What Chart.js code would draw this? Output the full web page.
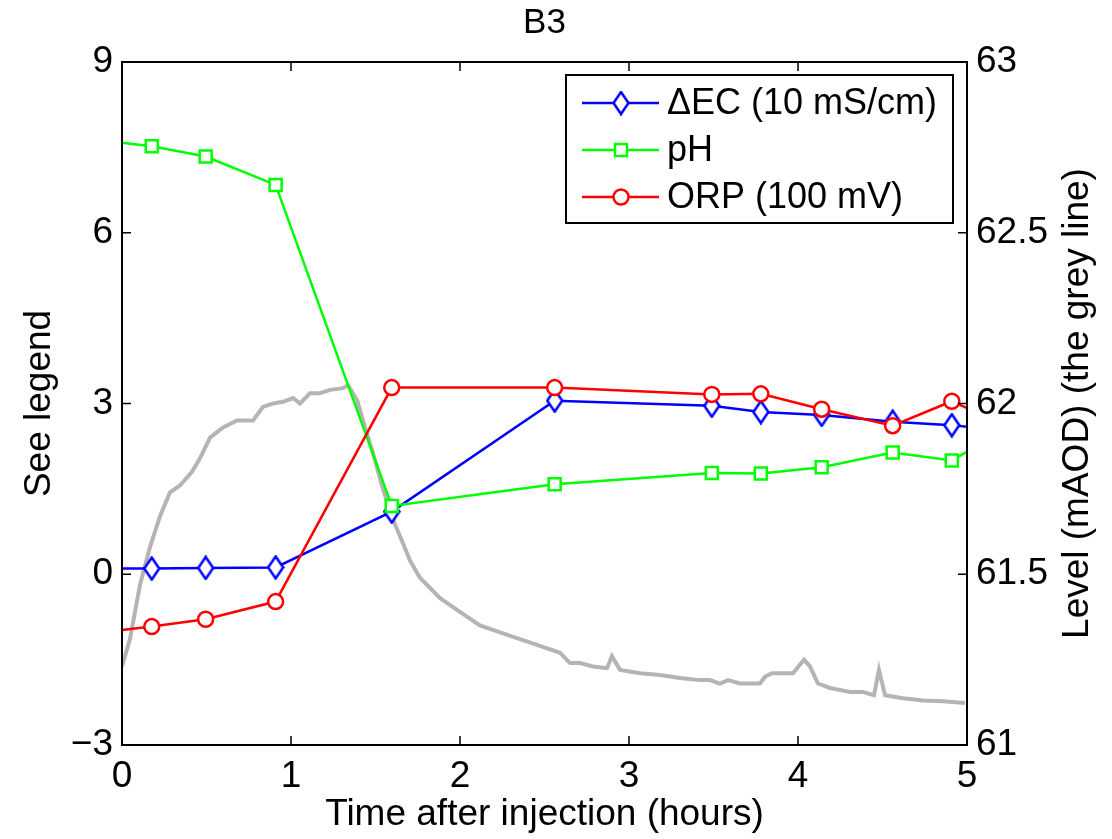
<!DOCTYPE html>
<html>
<head>
<meta charset="utf-8">
<script src="https://cdn.jsdelivr.net/npm/chart.js@4/dist/chart.umd.min.js"></script>
<style>
  html, body { margin: 0; padding: 0; background: #fff; }
  #wrap { width: 1112px; height: 839px; }
</style>
</head>
<body>
<div id="wrap"><canvas id="plot" width="1112" height="839"></canvas></div>
<script>
// sample times (hours) and the three probe series
var sampleHours = [0.176, 0.495, 0.909, 1.596, 2.56, 3.49, 3.78, 4.14, 4.56, 4.91];
var deltaEC = [0.10, 0.11, 0.12, 1.10, 3.05, 2.96, 2.85, 2.80, 2.68, 2.62];
var phVals = [7.52, 7.34, 6.84, 1.20, 1.58, 1.78, 1.77, 1.88, 2.14, 2.00];
var orpVals = [-0.92, -0.79, -0.48, 3.28, 3.28, 3.16, 3.17, 2.90, 2.61, 3.04];

// where the lines meet the left (t=0) and right (t=5) edges of the axes
var edgeHours = [0, 5];
var ecEdge = [0.10, 2.59];
var phEdge = [7.58, 2.15];
var orpEdge = [-0.98, 2.92];

// water level logger (right axis)
var levelHours = [0, 0.047, 0.107, 0.166, 0.225, 0.284, 0.343, 0.414, 0.462, 0.521,
    0.598, 0.680, 0.775, 0.834, 0.893, 0.953, 1.012, 1.053, 1.112, 1.172,
    1.231, 1.308, 1.337, 1.391, 1.438, 1.485, 1.544, 1.604, 1.663, 1.704,
    1.763, 1.882, 2.0, 2.118, 2.237, 2.355, 2.473, 2.592, 2.651, 2.710,
    2.787, 2.870, 2.899, 2.947, 3.065, 3.183, 3.302, 3.420, 3.479, 3.538,
    3.586, 3.657, 3.775, 3.805, 3.846, 3.970, 4.036, 4.071, 4.118, 4.189,
    4.308, 4.385, 4.450, 4.479, 4.515, 4.621, 4.740, 4.858, 4.988];
var levelVals = [61.23, 61.31, 61.47, 61.58, 61.67, 61.74, 61.76, 61.80, 61.84, 61.90,
    61.93, 61.95, 61.95, 61.99, 62.00, 62.005, 62.016, 62.00, 62.03, 62.03,
    62.04, 62.045, 62.054, 62.01, 61.93, 61.855, 61.75, 61.66, 61.59, 61.54,
    61.49, 61.43, 61.39, 61.35, 61.33, 61.31, 61.29, 61.27, 61.24, 61.24,
    61.23, 61.225, 61.26, 61.22, 61.21, 61.205, 61.196, 61.19, 61.19, 61.18,
    61.19, 61.18, 61.18, 61.2, 61.21, 61.21, 61.25, 61.23, 61.18, 61.167,
    61.155, 61.155, 61.146, 61.22, 61.146, 61.137, 61.13, 61.128, 61.123];

var seriesNames = ["\u0394EC (10 mS/cm)", "pH", "ORP (100 mV)"];
var xTicks = [0, 1, 2, 3, 4, 5];
var yTicks = [-3, 0, 3, 6, 9];
var y2Ticks = [61, 61.5, 62, 62.5, 63];

var FONT = "'Liberation Sans', Arial, Helvetica, sans-serif";

function withEdges(vals, edge) {
    var pts = [{ x: edgeHours[0], y: edge[0] }];
    for (var i = 0; i < sampleHours.length; i++) pts.push({ x: sampleHours[i], y: vals[i] });
    pts.push({ x: edgeHours[1], y: edge[1] });
    return pts;
}

function markerRadius(r) {
    return function (ctx) {
        var n = sampleHours.length;
        return (ctx.dataIndex === 0 || ctx.dataIndex === n + 1) ? 0 : r;
    };
}

// matlab-ish tall diamond
function makeDiamond() {
    var c = document.createElement("canvas");
    c.width = 18; c.height = 25;
    var g = c.getContext("2d");
    g.beginPath();
    g.moveTo(9, 1.5); g.lineTo(16.5, 12.5); g.lineTo(9, 23.5); g.lineTo(1.5, 12.5);
    g.closePath();
    g.fillStyle = "#fff"; g.fill();
    g.lineWidth = 2.5; g.strokeStyle = "#0000ff"; g.stroke();
    return c;
}
var diamondImg = makeDiamond();

var levelPts = levelHours.map(function (t, i) { return { x: t, y: levelVals[i] }; });

var frame = {
    id: "frame",
    afterDatasetsDraw: function (chart) {
        var ctx = chart.ctx, a = chart.chartArea;
        var sx = chart.scales.x, sy = chart.scales.y, sy2 = chart.scales.y2;
        ctx.save();
        ctx.strokeStyle = "#000";
        ctx.lineWidth = 2;
        ctx.strokeRect(a.left, a.top, a.right - a.left, a.bottom - a.top);
        ctx.lineWidth = 1.5;
        ctx.beginPath();
        xTicks.forEach(function (t) {
            var px = sx.getPixelForValue(t);
            ctx.moveTo(px, a.bottom); ctx.lineTo(px, a.bottom - 9);
            ctx.moveTo(px, a.top); ctx.lineTo(px, a.top + 9);
        });
        yTicks.forEach(function (t) {
            var py = sy.getPixelForValue(t);
            ctx.moveTo(a.left, py); ctx.lineTo(a.left + 9, py);
        });
        y2Ticks.forEach(function (t) {
            var py = sy2.getPixelForValue(t);
            ctx.moveTo(a.right, py); ctx.lineTo(a.right - 9, py);
        });
        ctx.stroke();

        // legend box
        var lx = 566, ly = 75, lw = 387, lh = 148;
        ctx.fillStyle = "#fff";
        ctx.fillRect(lx, ly, lw, lh);
        ctx.lineWidth = 2;
        ctx.strokeRect(lx, ly, lw, lh);
        var rows = [103, 150, 197];
        var ds = chart.data.datasets;
        for (var i = 0; i < 3; i++) {
            var d = ds[i];
            ctx.strokeStyle = d.borderColor;
            ctx.lineWidth = 2.5;
            ctx.beginPath();
            ctx.moveTo(582, rows[i]); ctx.lineTo(659, rows[i]);
            ctx.stroke();
            ctx.fillStyle = "#fff";
            if (i === 0) {
                ctx.drawImage(diamondImg, 621 - 9, rows[i] - 12.5);
            } else if (i === 1) {
                ctx.fillRect(615, rows[i] - 6, 12, 12);
                ctx.strokeRect(615, rows[i] - 6, 12, 12);
            } else {
                ctx.beginPath();
                ctx.arc(621, rows[i], 7.5, 0, Math.PI * 2);
                ctx.fill(); ctx.stroke();
            }
            ctx.fillStyle = "#000";
            ctx.font = "36px " + FONT;
            ctx.textAlign = "left";
            ctx.textBaseline = "middle";
            ctx.fillText(seriesNames[i], 667, rows[i] + 1);
        }

        // titles
        ctx.fillStyle = "#000";
        ctx.textAlign = "center";
        ctx.textBaseline = "middle";
        ctx.font = "35px " + FONT;
        ctx.fillText("B3", (a.left + a.right) / 2, 23);
        ctx.font = "37px " + FONT;
        ctx.fillText("Time after injection (hours)", (a.left + a.right) / 2, 815);
        ctx.save();
        ctx.translate(40, (a.top + a.bottom) / 2);
        ctx.rotate(-Math.PI / 2);
        ctx.fillText("See legend", 0, 0);
        ctx.restore();
        ctx.save();
        ctx.translate(1078, (a.top + a.bottom) / 2);
        ctx.rotate(-Math.PI / 2);
        ctx.fillText("Level (mAOD) (the grey line)", 0, 0);
        ctx.restore();
        ctx.restore();
    }
};

var tickFont = { family: FONT, size: 37 };

new Chart(document.getElementById("plot"), {
    type: "line",
    data: {
        datasets: [
            {
                label: seriesNames[0],
                data: withEdges(deltaEC, ecEdge),
                borderColor: "#0000ff",
                borderWidth: 2.5,
                pointStyle: diamondImg,
                pointRadius: markerRadius(10),
                pointBackgroundColor: "#fff",
                yAxisID: "y",
                order: 3
            },
            {
                label: seriesNames[1],
                data: withEdges(phVals, phEdge),
                borderColor: "#00ff00",
                borderWidth: 2.5,
                pointStyle: "rect",
                pointRadius: markerRadius(8.5),
                pointBorderWidth: 2.5,
                pointBackgroundColor: "#fff",
                yAxisID: "y",
                order: 2
            },
            {
                label: seriesNames[2],
                data: withEdges(orpVals, orpEdge),
                borderColor: "#ff0000",
                borderWidth: 2.5,
                pointStyle: "circle",
                pointRadius: markerRadius(7.5),
                pointBorderWidth: 2.5,
                pointBackgroundColor: "#fff",
                yAxisID: "y",
                order: 1
            },
            {
                label: "Level",
                data: levelPts,
                borderColor: "#b4b4b4",
                borderWidth: 4,
                pointRadius: 0,
                yAxisID: "y2",
                order: 4
            }
        ]
    },
    options: {
        responsive: false,
        animation: false,
        events: [],
        layout: { padding: { top: 62, left: 0, right: 0, bottom: 0 } },
        plugins: { legend: { display: false }, title: { display: false }, tooltip: { enabled: false } },
        scales: {
            x: {
                type: "linear",
                min: 0, max: 5,
                afterFit: function (s) { s.height = 94; },
                afterBuildTicks: function (s) { s.ticks = xTicks.map(function (v) { return { value: v }; }); },
                grid: { display: false, drawTicks: false },
                border: { display: false },
                ticks: { font: tickFont, color: "#000", padding: 10, maxRotation: 0 }
            },
            y: {
                position: "left",
                min: -3, max: 9,
                afterFit: function (s) { s.width = 122; },
                afterBuildTicks: function (s) { s.ticks = yTicks.map(function (v) { return { value: v }; }); },
                grid: { display: false, drawTicks: false },
                border: { display: false },
                ticks: {
                    font: tickFont, color: "#000", padding: 9,
                    callback: function (v) { return String(v).replace("-", "\u2212"); }
                }
            },
            y2: {
                position: "right",
                min: 61, max: 63,
                afterFit: function (s) { s.width = 145; },
                afterBuildTicks: function (s) { s.ticks = y2Ticks.map(function (v) { return { value: v }; }); },
                grid: { display: false, drawTicks: false },
                border: { display: false },
                ticks: {
                    font: tickFont, color: "#000", padding: 9,
                    callback: function (v) { return String(v); }
                }
            }
        }
    },
    plugins: [frame]
});
</script>
</body>
</html>
